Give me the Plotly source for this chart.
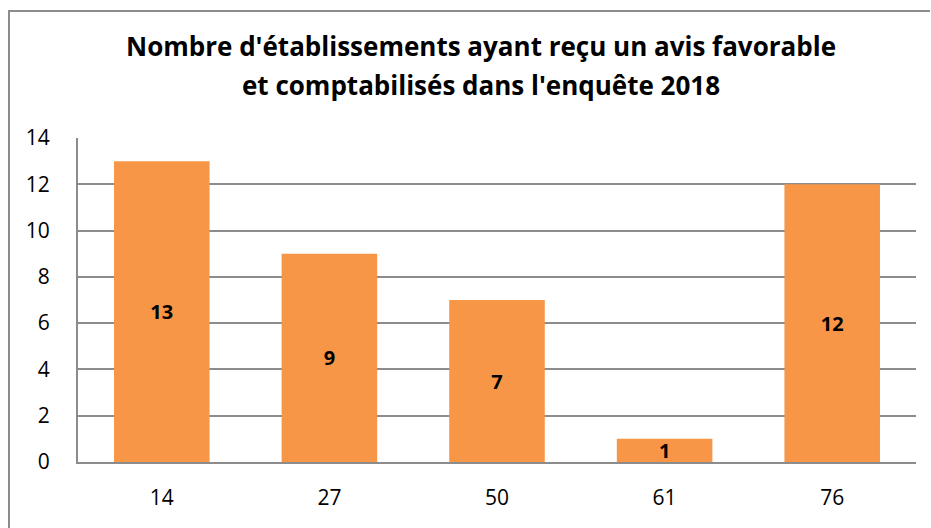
import plotly.graph_objects as go

categories = ["14", "27", "50", "61", "76"]
values = [13, 9, 7, 1, 12]
y_ticks = [0, 2, 4, 6, 8, 10, 12, 14]
title_lines = ["Nombre d'établissements ayant reçu un avis favorable",
               "et comptabilisés dans l'enquête 2018"]

W, H = 931, 528
ml, mt = 78, 138
mr = W - 916
mb = H - 462
pw, ph = W - ml - mr, H - mt - mb

def px_x(x):
    return (x - ml) / pw

def px_y(y):
    return (H - mb - y) / ph

font_family = "'Open Sans', 'Liberation Sans', sans-serif"

fig = go.Figure(go.Bar(
    x=categories,
    y=values,
    marker=dict(color="#F79646", line=dict(width=0)),
    text=[str(v) for v in values],
    textposition="inside",
    insidetextanchor="middle",
    textangle=0,
    constraintext="none",
    textfont=dict(family=font_family, size=20, color="black", weight="bold"),
    cliponaxis=False,
))

annotations = [
    dict(text=t, xref="paper", yref="paper", x=px_x(481), y=px_y(yc),
         xanchor="center", yanchor="middle", showarrow=False,
         font=dict(family=font_family, size=26, color="black", weight="bold"))
    for t, yc in zip(title_lines, [46, 85])
]

border = dict(color="#8c8c8c", width=2)

fig.update_layout(
    width=W, height=H,
    margin=dict(l=ml, r=mr, t=mt, b=mb),
    paper_bgcolor="white",
    plot_bgcolor="white",
    bargap=0.43,
    showlegend=False,
    font=dict(family=font_family, size=21, color="black"),
    annotations=annotations,
    xaxis=dict(
        type="category",
        showgrid=False,
        showline=True, linecolor="#8c8c8c", linewidth=2,
        ticks="", tickfont=dict(size=21),
        ticklabelstandoff=16,
    ),
    yaxis=dict(
        range=[0, 14],
        tickvals=y_ticks,
        showgrid=True, gridcolor="#8c8c8c", gridwidth=2,
        showline=True, linecolor="#8c8c8c", linewidth=2,
        zeroline=False,
        ticks="", tickfont=dict(size=21),
        ticklabelstandoff=22,
    ),
    shapes=[
        dict(type="path", xref="paper", yref="paper",
             path=f"M {px_x(9)},{px_y(H)} L {px_x(9)},{px_y(11)} L {px_x(W - 1)},{px_y(11)}",
             line=border),
    ],
)

fig.write_html(
    "out.html",
    config={"displayModeBar": False},
    post_script="document.body.style.margin='0';document.body.style.overflow='hidden';",
)
